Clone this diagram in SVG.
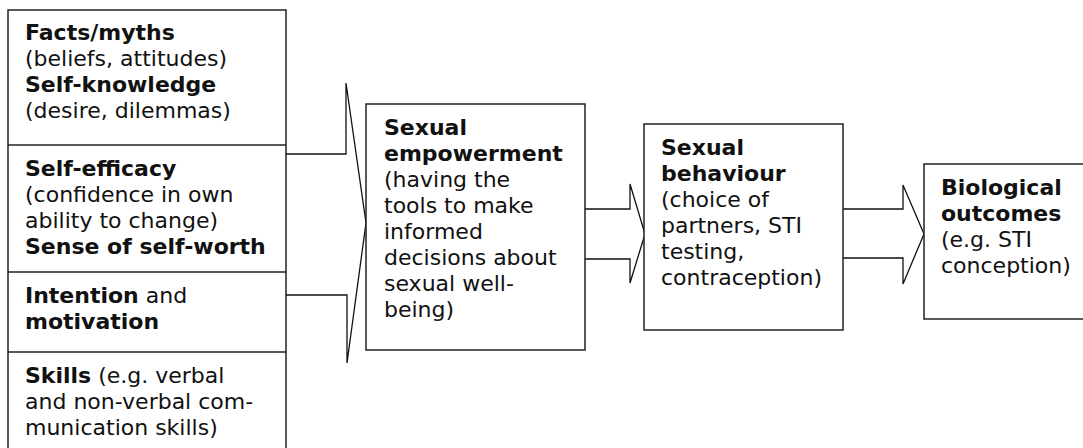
<svg xmlns="http://www.w3.org/2000/svg" width="1083" height="448" viewBox="0 0 1083 448">
<style>
.box{fill:#fff;stroke:#222;stroke-width:1.5}
.arr{fill:none;stroke:#111;stroke-width:1.3;stroke-linejoin:miter}
text{font-family:"DejaVu Sans",Verdana,sans-serif;font-size:22px;fill:#111}
.b{font-weight:bold}
</style>
<rect width="1083" height="448" fill="#fff"/>
<g id="factors">
<rect class="box" x="8" y="10" width="278" height="450"/>
<line class="box" x1="8" y1="145" x2="286" y2="145"/>
<line class="box" x1="8" y1="272" x2="286" y2="272"/>
<line class="box" x1="8" y1="352" x2="286" y2="352"/>
</g>
<g id="n-facts">
<text x="25" y="40"><tspan class="b">Facts/myths</tspan></text>
<text x="25" y="66">(beliefs, attitudes)</text>
<text x="25" y="92"><tspan class="b">Self-knowledge</tspan></text>
<text x="25" y="118">(desire, dilemmas)</text>
</g>
<g id="n-efficacy">
<text x="25" y="176"><tspan class="b">Self-efficacy</tspan></text>
<text x="25" y="202">(confidence in own</text>
<text x="25" y="228">ability to change)</text>
<text x="25" y="254"><tspan class="b">Sense of self-worth</tspan></text>
</g>
<g id="n-intention">
<text x="25" y="303"><tspan class="b">Intention</tspan> and</text>
<text x="25" y="329"><tspan class="b">motivation</tspan></text>
</g>
<g id="n-skills">
<text x="25" y="383"><tspan class="b">Skills</tspan> (e.g. verbal</text>
<text x="25" y="409">and non-verbal com-</text>
<text x="25" y="435">munication skills)</text>
</g>
<g id="connectors">
<path class="arr" d="M286,154 H346 V83 L366,223 L347,363 V295 H286"/>
<path class="arr" d="M585,209 H630 V184 L645,234 L630,283 V259 H585"/>
<path class="arr" d="M843,209 H903 V185 L924,234 L903,284 V258 H843"/>
</g>
<g id="n-empowerment">
<rect class="box" x="366" y="104" width="219" height="246"/>
<text x="384" y="135" class="b">Sexual</text>
<text x="384" y="161" class="b">empowerment</text>
<text x="384" y="187">(having the</text>
<text x="384" y="213">tools to make</text>
<text x="384" y="239">informed</text>
<text x="384" y="265">decisions about</text>
<text x="384" y="291">sexual well-</text>
<text x="384" y="317">being)</text>
</g>
<g id="n-behaviour">
<rect class="box" x="644" y="124" width="199" height="206"/>
<text x="661" y="155" class="b">Sexual</text>
<text x="661" y="181" class="b">behaviour</text>
<text x="661" y="207">(choice of</text>
<text x="661" y="233">partners, STI</text>
<text x="661" y="259">testing,</text>
<text x="661" y="285">contraception)</text>
</g>
<g id="n-outcomes">
<rect class="box" x="924" y="164" width="170" height="155"/>
<text x="941" y="195" class="b">Biological</text>
<text x="941" y="221" class="b">outcomes</text>
<text x="941" y="247">(e.g. STI</text>
<text x="941" y="273">conception)</text>
</g>
</svg>
